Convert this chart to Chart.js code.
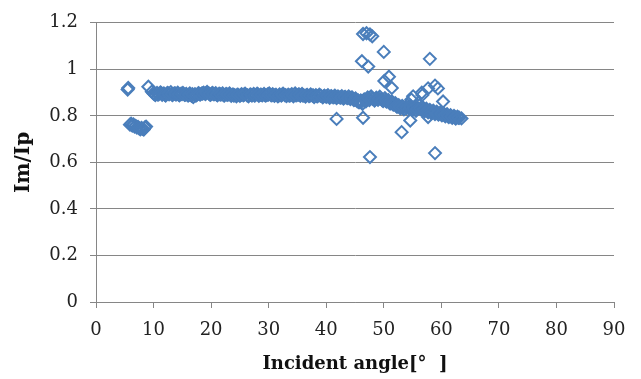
<!DOCTYPE html>
<html>
<head>
<meta charset="utf-8">
<script src="https://cdn.jsdelivr.net/npm/chart.js@4/dist/chart.umd.min.js"></script>
<style>
  html, body { margin: 0; padding: 0; background: #fff; }
  #wrap { width: 641px; height: 379px; }
</style>
</head>
<body>
<div id="wrap"><canvas id="chart" width="641" height="379"></canvas></div>
<script>
// low group at 6-9 deg
var lowAngle = [5.9, 6.1, 6.3, 6.5, 6.7, 6.9, 7.1, 7.3, 7.5, 7.7, 7.9, 8.1, 8.3, 8.5, 8.7];
var lowRatio = [0.762, 0.766, 0.758, 0.763, 0.754, 0.757, 0.750, 0.753, 0.746, 0.742, 0.748, 0.744, 0.741, 0.750, 0.754];

// main band, first pass
var bandAngle = [
  9.7, 10.0, 10.3, 10.6, 10.9, 11.2, 11.5, 11.8, 12.1, 12.4,
  12.7, 13.0, 13.3, 13.6, 13.9, 14.2, 14.5, 14.8, 15.1, 15.4,
  15.7, 16.0, 16.3, 16.6, 16.9, 17.2, 17.5, 17.8, 18.1, 18.4,
  18.7, 19.0, 19.3, 19.6, 19.9, 20.2, 20.5, 20.8, 21.1, 21.4,
  21.7, 22.0, 22.3, 22.6, 22.9, 23.2, 23.5, 23.8, 24.1, 24.4,
  24.7, 25.0, 25.3, 25.6, 25.9, 26.2, 26.5, 26.8, 27.1, 27.4,
  27.7, 28.0, 28.3, 28.6, 28.9, 29.2, 29.5, 29.8, 30.1, 30.4,
  30.7, 31.0, 31.3, 31.6, 31.9, 32.2, 32.5, 32.8, 33.1, 33.4,
  33.7, 34.0, 34.3, 34.6, 34.9, 35.2, 35.5, 35.8, 36.1, 36.4,
  36.7, 37.0, 37.3, 37.6, 37.9, 38.2, 38.5, 38.8, 39.1, 39.4,
  39.7, 40.0, 40.3, 40.6, 40.9, 41.2, 41.5, 41.8, 42.1, 42.4,
  42.7, 43.0, 43.3, 43.6, 43.9, 44.2, 44.5, 44.8, 45.1, 45.4,
  45.7, 46.0, 46.3, 46.6, 46.9, 47.2, 47.5, 47.8, 48.1, 48.4,
  48.7, 49.0, 49.3, 49.6, 49.9, 50.2, 50.5, 50.8, 51.1, 51.4,
  51.7, 52.0, 52.3, 52.6, 52.9, 53.2, 53.5, 53.8, 54.1, 54.4,
  54.7, 55.0, 55.3, 55.6, 55.9, 56.2, 56.5, 56.8, 57.1, 57.4,
  57.7, 58.0, 58.3, 58.6, 58.9, 59.2, 59.5, 59.8, 60.1, 60.4,
  60.7, 61.0, 61.3, 61.6, 61.9, 62.2, 62.5, 62.8, 63.1, 63.5
];
var bandRatio = [
  0.904, 0.896, 0.889, 0.899, 0.893, 0.901, 0.890, 0.897, 0.887, 0.899,
  0.893, 0.902, 0.889, 0.896, 0.891, 0.900, 0.888, 0.895, 0.899, 0.890,
  0.894, 0.887, 0.897, 0.886, 0.881, 0.893, 0.889, 0.898, 0.892, 0.896,
  0.900, 0.894, 0.903, 0.897, 0.890, 0.899, 0.893, 0.898, 0.888, 0.895,
  0.891, 0.897, 0.887, 0.894, 0.890, 0.896, 0.886, 0.892, 0.889, 0.884,
  0.890, 0.886, 0.893, 0.888, 0.895, 0.889, 0.884, 0.892, 0.887, 0.894,
  0.889, 0.895, 0.886, 0.891, 0.888, 0.894, 0.887, 0.892, 0.896, 0.889,
  0.893, 0.886, 0.890, 0.884, 0.892, 0.887, 0.895, 0.889, 0.885, 0.891,
  0.887, 0.893, 0.884, 0.896, 0.889, 0.892, 0.886, 0.894, 0.888, 0.883,
  0.890, 0.885, 0.892, 0.887, 0.881, 0.889, 0.884, 0.891, 0.886, 0.880,
  0.887, 0.882, 0.889, 0.878, 0.885, 0.880, 0.887, 0.876, 0.883, 0.879,
  0.885, 0.874, 0.881, 0.877, 0.884, 0.872, 0.879, 0.868, 0.875, 0.862,
  0.858, 0.866, 0.852, 0.871, 0.862, 0.879, 0.868, 0.884, 0.873, 0.866,
  0.878, 0.869, 0.882, 0.872, 0.864, 0.876, 0.861, 0.868, 0.853, 0.862,
  0.848, 0.855, 0.839, 0.846, 0.832, 0.843, 0.828, 0.838, 0.846, 0.831,
  0.842, 0.826, 0.837, 0.822, 0.833, 0.845, 0.827, 0.836, 0.820, 0.831,
  0.815, 0.826, 0.811, 0.822, 0.808, 0.818, 0.805, 0.814, 0.802, 0.811,
  0.798, 0.807, 0.795, 0.803, 0.791, 0.800, 0.788, 0.797, 0.792, 0.789
];

// main band, second pass
var bandAngle2 = [
  10.15, 10.75, 11.35, 11.95, 12.55, 13.15, 13.75, 14.35, 14.95, 15.55,
  16.15, 16.75, 17.35, 17.95, 18.55, 19.15, 19.75, 20.35, 20.95, 21.55,
  22.15, 22.75, 23.35, 23.95, 24.55, 25.15, 25.75, 26.35, 26.95, 27.55,
  28.15, 28.75, 29.35, 29.95, 30.55, 31.15, 31.75, 32.35, 32.95, 33.55,
  34.15, 34.75, 35.35, 35.95, 36.55, 37.15, 37.75, 38.35, 38.95, 39.55,
  40.15, 40.75, 41.35, 41.95, 42.55, 43.15, 43.75, 44.35, 44.95, 45.55,
  46.15, 46.75, 47.35, 47.95, 48.55, 49.15, 49.75, 50.35, 50.95, 51.55,
  52.15, 52.75, 53.35, 53.95, 54.55, 55.15, 55.75, 56.35, 56.95, 57.55,
  58.15, 58.75, 59.35, 59.95, 60.55, 61.15, 61.75, 62.35, 62.95
];
var bandRatio2 = [
  0.895, 0.892, 0.898, 0.891, 0.896, 0.893, 0.897, 0.892, 0.894, 0.891,
  0.890, 0.893, 0.887, 0.894, 0.896, 0.898, 0.893, 0.895, 0.891, 0.893,
  0.889, 0.892, 0.890, 0.887, 0.891, 0.889, 0.892, 0.888, 0.890, 0.887,
  0.892, 0.890, 0.889, 0.891, 0.888, 0.890, 0.887, 0.891, 0.889, 0.887,
  0.890, 0.888, 0.891, 0.887, 0.889, 0.886, 0.888, 0.885, 0.887, 0.884,
  0.884, 0.882, 0.881, 0.883, 0.879, 0.880, 0.876, 0.878, 0.870, 0.866,
  0.861, 0.869, 0.874, 0.877, 0.871, 0.874, 0.867, 0.865, 0.858, 0.851,
  0.844, 0.838, 0.836, 0.833, 0.838, 0.832, 0.829, 0.833, 0.826, 0.823,
  0.818, 0.816, 0.812, 0.808, 0.803, 0.799, 0.796, 0.794, 0.791
];

// scattered points
var outAngle = [5.5, 5.6, 9.1, 41.8, 46.2, 46.4, 47.0, 47.6, 48.0, 47.3, 50.0, 46.4, 47.6, 50.1, 50.9,
  51.4, 58.0, 58.9, 57.7, 59.4, 56.7, 60.3, 53.1, 54.6, 57.7, 58.9, 55.1, 56.6, 54.8];
var outRatio = [0.913, 0.920, 0.925, 0.787, 1.035, 1.152, 1.155, 1.150, 1.142, 1.012, 1.075, 0.792, 0.623, 0.950, 0.968,
  0.920, 1.045, 0.930, 0.918, 0.918, 0.890, 0.862, 0.730, 0.780, 0.795, 0.640, 0.884, 0.900, 0.870];

var xTicks = [0, 10, 20, 30, 40, 50, 60, 70, 80, 90];
var yTicks = [0, 0.2, 0.4, 0.6, 0.8, 1, 1.2];

var gridColor = '#868686';
var markColor = '#4a7ebb';
var serif = "'DejaVu Serif', 'Liberation Serif', serif";

function toPoints(xs, ys) {
  var pts = [];
  for (var i = 0; i < xs.length; i++) {
    pts.push({x: xs[i], y: ys[i]});
  }
  return pts;
}

var points = toPoints(lowAngle, lowRatio)
  .concat(toPoints(bandAngle, bandRatio))
  .concat(toPoints(bandAngle2, bandRatio2))
  .concat(toPoints(outAngle, outRatio));

new Chart(document.getElementById('chart'), {
  type: 'scatter',
  data: {
    datasets: [{
      label: 'Im/Ip',
      data: points,
      pointStyle: 'rectRot',
      pointRadius: 6,
      pointBorderWidth: 2,
      pointBorderColor: markColor,
      pointBackgroundColor: 'rgba(0,0,0,0)'
    }]
  },
  options: {
    responsive: false,
    animation: false,
    layout: { padding: { top: 17, right: 27, left: 0, bottom: 0 } },
    plugins: { legend: { display: false }, tooltip: { enabled: false } },
    scales: {
      x: {
        type: 'linear',
        min: 0,
        max: 90,
        afterBuildTicks: function (s) { s.ticks = xTicks.map(function (v) { return {value: v}; }); },
        afterFit: function (s) { s.height = 77; },
        grid: { drawOnChartArea: false, drawTicks: true, tickLength: 6, color: gridColor },
        border: { display: true, color: gridColor },
        ticks: { color: '#222', padding: 12, maxRotation: 0, font: { family: serif, size: 18 } },
        title: {
          display: true,
          text: 'Incident angle[°  ]',
          color: '#111',
          padding: { top: 0, bottom: 4 },
          font: { family: serif, size: 18, weight: 'bold' }
        }
      },
      y: {
        min: 0,
        max: 1.2,
        afterBuildTicks: function (s) { s.ticks = yTicks.map(function (v) { return {value: v}; }); },
        afterFit: function (s) { s.width = 96; },
        grid: { color: gridColor, tickLength: 6 },
        border: { display: true, color: gridColor },
        ticks: {
          color: '#222',
          padding: 12,
          font: { family: serif, size: 18 },
          callback: function (v) { return String(Math.round(v * 10) / 10); }
        },
        title: {
          display: true,
          text: 'Im/Ip',
          color: '#111',
          padding: { top: 12, bottom: 0 },
          font: { family: serif, size: 20, weight: 'bold' }
        }
      }
    }
  }
});
</script>
</body>
</html>
